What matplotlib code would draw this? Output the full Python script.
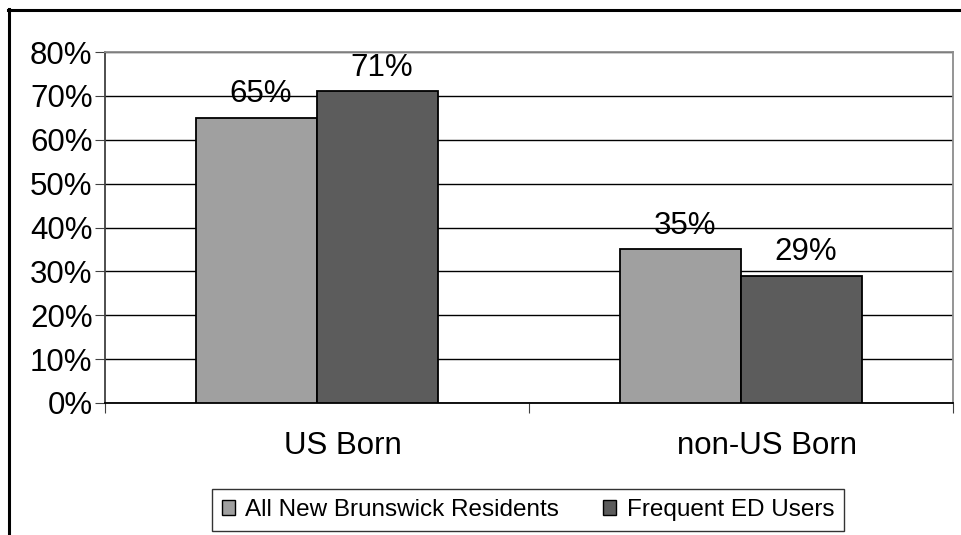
import matplotlib
matplotlib.use("Agg")
import matplotlib.pyplot as plt
import matplotlib.transforms as mtransforms
from matplotlib.lines import Line2D
from matplotlib.patches import Patch

plt.rcParams['font.family'] = ['Liberation Sans', 'DejaVu Sans']

categories = ["US Born", "non-US Born"]
series_names = ["All New Brunswick Residents", "Frequent ED Users"]
all_residents = [65, 35]
frequent_ed = [71, 29]
y_ticks = [0, 10, 20, 30, 40, 50, 60, 70, 80]
colors = ["#A0A0A0", "#5C5C5C"]

W, H = 961, 535
fig = plt.figure(figsize=(W / 100, H / 100), dpi=100)

# figure border (left and top)
fig.add_artist(Line2D([8.5 / W, 8.5 / W], [0, 1 - 9 / H], color="black", lw=2.2, transform=fig.transFigure))
fig.add_artist(Line2D([8 / W, 1], [1 - 9.5 / H, 1 - 9.5 / H], color="black", lw=2.2, transform=fig.transFigure))

ax = fig.add_axes([105 / W, 1 - 403 / H, (953 - 105) / W, (403 - 52) / H])

x = list(range(len(categories)))
w = 0.285
b1 = ax.bar([i - w / 2 for i in x], all_residents, width=w, color=colors[0], edgecolor="black", linewidth=1.3, zorder=3)
b2 = ax.bar([i + w / 2 for i in x], frequent_ed, width=w, color=colors[1], edgecolor="black", linewidth=1.3, zorder=3)

FS = 22.5
lab_off = mtransforms.ScaledTranslation(4 / 100, 0, fig.dpi_scale_trans)
for bars, vals in ((b1, all_residents), (b2, frequent_ed)):
    for r, v in zip(bars, vals):
        ax.text(r.get_x() + r.get_width() / 2, v + 2.0, f"{v}%", ha="center", va="bottom", fontsize=FS,
                zorder=4, transform=ax.transData + lab_off)

ax.set_xlim(-0.5, 1.5)
ax.set_ylim(0, 80)
ax.set_yticks(y_ticks)
ax.set_yticklabels([f"{t}%" for t in y_ticks], fontsize=FS)
ax.yaxis.grid(True, color="black", lw=1.0, zorder=0)
ax.set_axisbelow(True)

ax.set_xticks([-0.5, 0.5, 1.5])
ax.set_xticklabels(["", "", ""])
ax.set_xticks(x, minor=True)
ax.set_xticklabels(categories, minor=True, fontsize=FS)
ax.tick_params(axis="x", which="minor", length=0, pad=20)
ax.tick_params(axis="x", which="major", length=7, direction="out", color="#404040")
ax.tick_params(axis="y", length=7, direction="out", color="#404040", pad=2)

cat_off = mtransforms.ScaledTranslation(26 / 100, 0, fig.dpi_scale_trans)
for lbl in ax.get_xticklabels(minor=True):
    lbl.set_transform(lbl.get_transform() + cat_off)

ax.spines["left"].set_color("#404040")
ax.spines["bottom"].set_color("black")
ax.spines["top"].set_color("#8C8C8C")
ax.spines["right"].set_color("#8C8C8C")
for s in ax.spines.values():
    s.set_linewidth(1.3)

handles = [Patch(facecolor=colors[0], edgecolor="black"), Patch(facecolor=colors[1], edgecolor="black")]
leg = fig.legend(handles, series_names, loc="center", bbox_to_anchor=(528 / W, 1 - 510 / H), ncol=2,
                 fontsize=17.5, frameon=True, fancybox=False, edgecolor="black", handlelength=0.55,
                 handleheight=0.55, handletextpad=0.42, columnspacing=1.8, borderpad=0.42, borderaxespad=0)
leg.get_frame().set_linewidth(1.0)

fig.savefig("out.png", dpi=100)
